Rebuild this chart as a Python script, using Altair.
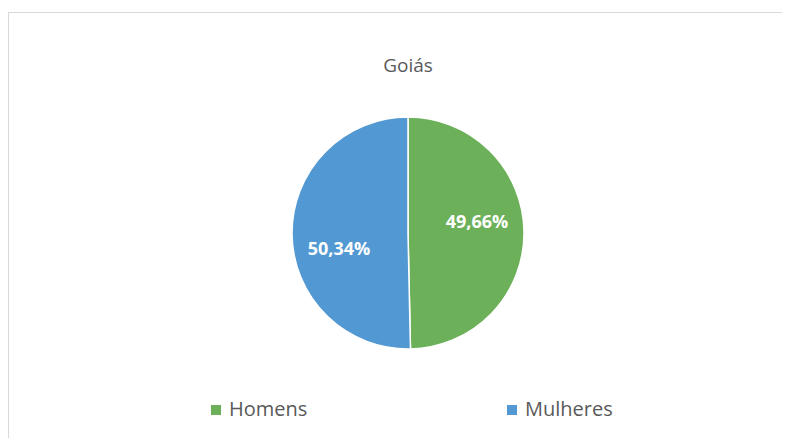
import altair as alt
import pandas as pd

# ---- data ----
categories = ["Homens", "Mulheres"]
values = [49.66, 50.34]
labels = ["49,66%", "50,34%"]
order = [0, 1]
title_text = "Goiás"
colors = ["#6CB159", "#5299D3"]

df = pd.DataFrame({"categoria": categories, "valor": values, "rotulo": labels, "ordem": order})

# ---- layout constants ----
W, H = 774, 426
CX, CY = 400, 221
R = 116
FONT = "Open Sans"
GREY = "#595959"

color = alt.Color(
    "categoria:N",
    scale=alt.Scale(domain=categories, range=colors),
    legend=alt.Legend(
        title=None, orient="none", legendX=198, legendY=388,
        direction="horizontal", symbolType="square", symbolSize=100,
        symbolStrokeWidth=0, labelFontSize=20, labelFont=FONT,
        labelColor=GREY, columnPadding=194, labelOffset=3, padding=0,
    ),
)

pie = alt.Chart(df).mark_arc(outerRadius=R, stroke="white", strokeWidth=1.5).encode(
    theta=alt.Theta("valor:Q", stack=True),
    order=alt.Order("ordem:Q"),
    color=color,
    x=alt.value(CX),
    y=alt.value(CY),
)

stacked = alt.Chart(df).transform_stack(
    stack="valor", as_=["t0", "t1"], groupby=[], sort=[alt.SortField("ordem")]
).transform_calculate(mid="(datum.t0 + datum.t1) / 2")

theta_mid = alt.Theta("mid:Q", scale=alt.Scale(domain=[0, 100], range=[0, 6.283185307]), stack=None)

def label_layer(cat, dy):
    return stacked.transform_filter(alt.datum.categoria == cat).mark_text(
        radius=69, dy=dy, font=FONT, fontSize=18, fontWeight="bold", color="white"
    ).encode(theta=theta_mid, text="rotulo:N", x=alt.value(CX), y=alt.value(CY))

lab_h = label_layer("Homens", -9)
lab_m = label_layer("Mulheres", 16)

title = alt.Chart(pd.DataFrame({"t": [title_text]})).mark_text(
    font=FONT, fontSize=19, color=GREY
).encode(text="t:N", x=alt.value(CX), y=alt.value(54))

frame_df = pd.DataFrame({"k": [0]})
top_rule = alt.Chart(frame_df).mark_rule(color="#D9D9D9", strokeWidth=1).encode(
    x=alt.value(0), x2=alt.value(W), y=alt.value(0.5)
)
left_rule = alt.Chart(frame_df).mark_rule(color="#D9D9D9", strokeWidth=1).encode(
    x=alt.value(0.5), y=alt.value(0), y2=alt.value(H)
)

chart = alt.layer(top_rule, left_rule, pie, lab_h, lab_m, title).properties(
    width=W, height=H,
    autosize=alt.AutoSizeParams(type="none"),
    padding={"left": 0, "top": 4, "right": 0, "bottom": 0},
).configure_view(stroke=None).configure(background="white")

chart.save("out.html", embed_options={"renderer": "svg", "actions": False})
